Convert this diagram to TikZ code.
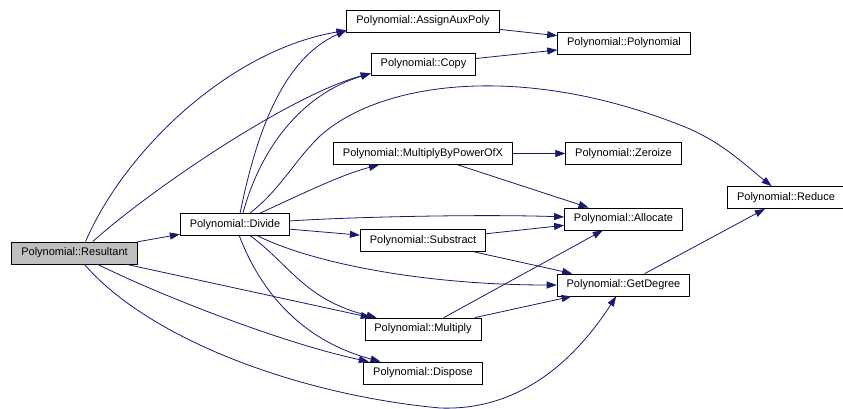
\documentclass[tikz,border=0pt]{standalone}
\usepackage{fontspec}
\setmainfont{Liberation Sans}
\usetikzlibrary{arrows.meta}

\definecolor{edgeblue}{HTML}{191970}
\definecolor{rootgray}{HTML}{BFBFBF}

\begin{document}
\begin{tikzpicture}[x=1pt,y=-1pt,
    fn/.style={draw=black,line width=0.8pt,fill=white,inner xsep=9.5pt,inner ysep=0pt,
               minimum height=22pt,font=\fontsize{11}{13}\selectfont},
    root/.style={fn,fill=rootgray},
    call/.style={draw=edgeblue,line width=0.8pt,-{Triangle[length=10pt,width=7pt]}}]
  \useasboundingbox (0,0) rectangle (843,409);

  % functions
  \node[root] (resultant) at (74.5,253) {Polynomial::Resultant};
  \node[fn] (divide)    at (235,224.5) {Polynomial::Divide};
  \node[fn] (assign)    at (423,21)    {Polynomial::AssignAuxPoly};
  \node[fn] (copy)      at (423.5,64)  {Polynomial::Copy};
  \node[fn] (mulpow)    at (423,153.5) {Polynomial::MultiplyByPowerOfX};
  \node[fn] (substract) at (423,240.5) {Polynomial::Substract};
  \node[fn] (multiply)  at (423,329)   {Polynomial::Multiply};
  \node[fn] (dispose)   at (423,373)   {Polynomial::Dispose};
  \node[fn] (ctor)      at (624,43)    {Polynomial::Polynomial};
  \node[fn] (zeroize)   at (623.5,153.5) {Polynomial::Zeroize};
  \node[fn] (allocate)  at (623.5,219) {Polynomial::Allocate};
  \node[fn] (getdegree) at (623.5,285) {Polynomial::GetDegree};
  \node[fn] (reduce)    at (786,197.5) {Polynomial::Reduce};

  % calls from Resultant
  \draw[call] (resultant) -- (divide);
  \draw[call] (resultant.46) .. controls (125,150) and (230,50) .. (assign.187);
  \draw[call] (resultant.32) .. controls (150,190) and (290,95) .. (copy.190);
  \draw[call] (resultant) -- (multiply);
  \draw[call] (resultant) .. controls (170,300) and (290,345) .. (dispose);
  \draw[call] (resultant) .. controls (150,340) and (300,395) .. (440,408)
                          .. controls (520,411) and (575,360) .. (getdegree);

  % calls from Divide
  \draw[call] (divide.66) .. controls (255,140) and (280,60) .. (assign.187);
  \draw[call] (divide.55) .. controls (260,150) and (300,95) .. (copy.190);
  \draw[call] (divide) .. controls (280,190) and (295,160) .. (320,136)
                       .. controls (380,82) and (520,62) .. (680,125)
                       .. controls (720,140) and (745,165) .. (reduce);
  \draw[call] (divide) .. controls (300,195) and (340,175) .. (mulpow);
  \draw[call] (divide) .. controls (350,217) and (480,214) .. (allocate);
  \draw[call] (divide) -- (substract);
  \draw[call] (divide) .. controls (310,262) and (420,285) .. (getdegree);
  \draw[call] (divide) .. controls (290,265) and (305,300) .. (multiply);
  \draw[call] (divide) .. controls (260,290) and (300,340) .. (dispose);

  % the rest
  \draw[call] (assign) -- (ctor);
  \draw[call] (copy) -- (ctor);
  \draw[call] (mulpow) -- (zeroize);
  \draw[call] (mulpow) -- (allocate);
  \draw[call] (substract) -- (allocate);
  \draw[call] (substract) -- (getdegree);
  \draw[call] (multiply) -- (allocate);
  \draw[call] (multiply) -- (getdegree);
  \draw[call] (getdegree) -- (reduce);
\end{tikzpicture}
\end{document}
